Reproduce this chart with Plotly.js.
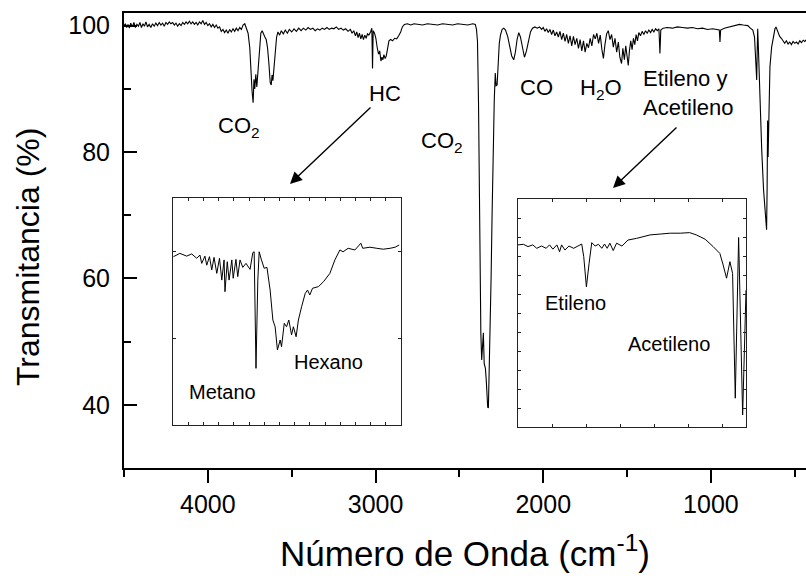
<!DOCTYPE html>
<html><head><meta charset="utf-8">
<script src="https://cdn.plot.ly/plotly-3.0.1.min.js"></script>
<style>html,body{margin:0;padding:0;background:#fff}#chart{width:806px;height:582px}</style>
</head><body><div id="chart"></div>
<script>
// Main FTIR spectrum (wavenumber cm-1, transmittance %)
const mainWave = [4500,4492,4484,4476,4468,4460,4450,4441,4432,4423,4414,4405,4396,4387,4378,4369,4360,4350,4340,4330,4320,4310,4300,4290,4280,4270,4260,4250,4240,4230,4220,4210,4200,4190,4180,4170,4160,4150,4140,4130,4120,4110,4100,4090,4080,4070,4060,4050,4040,4030,4020,4010,4000,3990,3980,3970,3960,3950,3940,3930,3920,3910,3900,3890,3880,3870,3860,3850,3840,3830,3820,3810,3800,3790,3780,3770,3760,3750,3742,3736,3730,3725,3720,3714,3708,3700,3692,3684,3676,3668,3660,3652,3644,3636,3628,3622,3617,3612,3606,3598,3590,3582,3572,3562,3550,3538,3526,3514,3500,3486,3472,3458,3444,3430,3416,3402,3388,3374,3360,3346,3332,3318,3304,3290,3276,3262,3248,3234,3220,3206,3192,3178,3164,3150,3140,3130,3120,3112,3104,3096,3088,3080,3072,3064,3056,3048,3040,3030,3022,3018,3014,3006,2998,2990,2982,2975,2968,2962,2956,2950,2943,2936,2928,2920,2910,2898,2886,2874,2862,2850,2840,2828,2810,2790,2770,2750,2720,2690,2660,2630,2600,2570,2540,2510,2480,2450,2420,2405,2398,2392,2386,2381,2376,2372,2367,2362,2357,2352,2345,2340,2336,2331,2327,2322,2317,2311,2305,2299,2292,2286,2281,2275,2269,2262,2255,2245,2235,2225,2212,2200,2188,2176,2166,2156,2146,2136,2124,2112,2100,2088,2076,2064,2050,2036,2022,2010,2000,1990,1980,1970,1960,1950,1940,1930,1920,1910,1900,1890,1880,1870,1860,1850,1840,1830,1820,1810,1800,1790,1780,1770,1760,1750,1740,1730,1720,1710,1700,1690,1680,1670,1660,1650,1641,1632,1622,1612,1602,1592,1582,1572,1562,1552,1543,1533,1525,1516,1508,1500,1493,1486,1478,1470,1462,1454,1446,1438,1430,1420,1410,1400,1390,1380,1370,1360,1350,1340,1330,1320,1310,1304,1299,1285,1260,1230,1200,1170,1140,1110,1080,1050,1020,990,960,950,946,942,920,890,860,830,807,780,765,750,740,733,727,724,721,717,712,706,697,686,677,668,665,662,659,654,648,638,628,618,612,600,590,580,570,560,550,540,530,520,510,500,490,480,470,460,450,440,430];
const mainTrans = [100.0,100.3,99.7,100.2,99.6,100.4,99.8,100.5,99.7,100.2,99.9,100.5,99.7,100.3,99.9,100.6,99.8,100.2,99.7,100.3,99.9,100.4,100.0,100.5,100.1,100.4,99.9,100.5,100.2,100.6,100.3,100.5,100.1,100.4,99.9,100.3,100.0,100.5,100.2,100.6,100.3,100.7,100.3,100.6,100.2,100.5,100.1,100.6,100.3,100.8,100.2,100.5,100.0,100.3,99.8,100.2,99.7,100.1,99.6,99.8,99.1,99.4,98.9,99.3,98.8,99.4,99.0,99.5,99.1,99.6,99.2,99.7,99.4,100.1,100.3,99.6,98.8,96.5,92.0,89.5,87.8,91.5,90.0,92.3,90.3,93.0,97.0,98.8,99.2,98.6,98.2,97.8,96.5,94.0,91.0,90.6,92.2,91.3,93.5,96.8,98.2,99.0,98.5,99.2,98.7,99.3,98.8,99.4,99.0,99.5,99.1,99.6,99.2,99.6,99.3,99.7,99.4,99.6,99.2,99.5,99.3,99.6,99.4,99.7,99.4,99.6,99.5,99.8,99.4,99.6,99.3,99.5,99.1,99.4,98.8,99.2,98.4,99.0,98.1,98.8,97.9,98.6,97.8,98.5,98.0,98.7,98.5,99.0,99.6,93.2,99.2,98.8,98.0,96.5,95.5,96.0,94.4,95.0,94.6,95.4,94.8,95.2,96.5,97.6,97.8,97.6,98.0,97.9,98.4,99.0,99.8,100.2,100.3,100.1,100.3,100.2,100.1,100.3,100.2,100.1,100.3,100.2,100.1,100.3,100.2,100.1,100.3,100.2,99.4,97.5,88.0,70.0,55.0,51.3,47.1,49.5,51.4,46.5,45.8,44.0,40.8,39.6,39.5,45.0,51.4,60.0,70.0,81.0,88.2,92.5,90.5,90.6,94.0,97.2,98.5,99.4,99.6,99.3,98.3,96.8,95.2,94.6,95.8,97.8,98.9,98.2,96.5,95.0,96.0,97.8,99.0,99.6,99.8,99.6,99.8,99.4,99.7,99.1,99.5,98.9,99.4,98.6,99.3,98.4,99.0,98.2,99.1,97.8,98.8,97.5,98.6,97.2,98.4,96.8,98.3,97.0,98.0,96.4,97.8,96.0,97.6,95.8,97.2,96.5,98.0,96.8,98.6,97.9,98.8,97.2,98.5,96.2,94.8,97.0,98.7,99.2,97.8,98.6,96.6,98.0,95.8,97.4,95.0,94.0,96.4,94.6,96.8,95.2,93.7,96.0,97.6,96.2,98.0,97.0,98.6,97.6,98.9,98.4,99.1,98.6,99.2,98.8,99.3,98.9,99.4,99.0,99.5,99.2,99.5,95.6,99.3,99.6,99.7,99.6,99.8,99.7,99.6,99.7,99.5,99.6,99.4,99.5,99.4,99.3,97.4,99.3,99.6,99.8,100.0,100.2,100.1,100.0,99.6,99.3,98.2,95.0,91.4,96.0,99.5,96.5,91.9,87.0,80.3,74.0,70.5,67.7,74.0,85.0,79.2,88.5,93.5,96.6,98.2,99.5,99.8,99.0,98.3,98.0,97.5,97.2,97.6,97.1,97.4,97.0,97.5,97.2,97.4,97.1,97.6,97.3,97.7,97.5,97.8];

// Inset 1: hydrocarbon region (metano / hexano)
const hcWave = [3199,3185,3170,3159,3148,3141,3137,3130,3126,3120,3115,3110,3104,3098,3093,3088,3086,3081,3077,3071,3068,3062,3058,3053,3047,3040,3031,3025,3022,3018,3014,3011,3006,3000,2994,2987,2981,2976,2971,2965,2962,2956,2951,2946,2940,2936,2930,2925,2918,2910,2905,2900,2894,2881,2870,2856,2845,2834,2827,2816,2801,2788,2784,2768,2753,2739,2724,2713,2704];
const hcTrans = [99.27,99.45,99.30,99.42,99.18,99.36,98.90,99.30,98.80,99.27,98.54,99.23,98.35,99.18,97.98,99.09,97.34,98.99,97.98,99.09,98.08,99.12,98.17,99.09,98.68,98.90,98.57,99.49,99.54,93.12,97.98,99.54,99.09,98.63,98.68,97.43,95.78,95.41,94.13,94.68,94.31,95.60,95.41,95.78,94.96,95.41,94.86,95.78,96.51,97.25,97.43,97.16,97.53,97.62,97.89,98.35,99.09,99.64,99.54,99.73,99.64,100.01,99.73,99.79,99.73,99.68,99.73,99.79,99.91];

// Inset 2: etileno / acetileno region
const c2Wave = [1050,1042,1035,1028,1022,1015,1008,1003,998,992,988,985,980,974,967,960,955,952,948,944,940,935,930,925,921,917,913,908,903,895,886,873,861,853,838,823,808,794,784,771,759,749,744,739,734,730,726,721,715,710];
const c2Trans = [98.39,98.41,98.33,98.39,98.27,98.35,98.27,98.39,98.24,98.39,98.15,98.39,98.21,98.35,98.27,98.35,98.42,97.98,96.92,97.74,98.47,98.35,98.41,98.27,98.42,98.27,98.45,98.19,98.45,98.35,98.56,98.62,98.70,98.74,98.77,98.80,98.80,98.82,98.74,98.59,98.33,98.09,97.68,97.22,97.80,97.39,93.01,98.65,92.42,96.80];

const xTickVals = [4000,3000,2000,1000];
const xTickText = ['4000','3000','2000','1000'];
const yTickVals = [40,60,80,100];
const yTickText = ['40','60','80','100'];

const FONT = '"Liberation Sans", Arial, sans-serif';
const lineStyle = {color:'#000', width:1.1};

const traces = [
  {x:mainWave, y:mainTrans, type:'scatter', mode:'lines', line:lineStyle, xaxis:'x', yaxis:'y', hoverinfo:'x+y'},
  {x:hcWave, y:hcTrans, type:'scatter', mode:'lines', line:{color:'#000', width:1}, xaxis:'x2', yaxis:'y2'},
  {x:c2Wave, y:c2Trans, type:'scatter', mode:'lines', line:{color:'#000', width:1}, xaxis:'x3', yaxis:'y3'}
];

const insetAxis = (extra) => Object.assign({
  showticklabels:false, showgrid:false, zeroline:false, showline:true, mirror:'allticks',
  linecolor:'#222', linewidth:1, ticks:'inside', ticklen:3, tickwidth:1, tickcolor:'#222'
}, extra);

const ann = [];
const lab = (text, x, y, size, extra) => ann.push(Object.assign({
  text:text, x:x, y:y, xref:'paper', yref:'paper', showarrow:false,
  font:{family:FONT, size:size, color:'#000'}, xanchor:'center', yanchor:'middle'
}, extra||{}));
const px2x = p => (p-124)/682;
const py2y = p => (468-p)/455;

lab('Transmitancia (%)', px2x(28), py2y(257), 32, {textangle:-90});
lab('CO<sub>2</sub>', px2x(239), py2y(127), 22);
lab('HC', px2x(385), py2y(93), 22);
lab('CO<sub>2</sub>', px2x(442), py2y(142), 22);
lab('CO', px2x(536), py2y(88), 22);
lab('H<sub>2</sub>O', px2x(601), py2y(89), 22);
lab('Etileno y<br>Acetileno', px2x(641), py2y(93), 22, {xanchor:'left', align:'left'});
lab('Metano', px2x(222), py2y(392), 20);
lab('Hexano', px2x(328), py2y(362), 20);
lab('Etileno', px2x(575), py2y(303), 20);
lab('Acetileno', px2x(669), py2y(344), 20);
// arrows
ann.push({text:'', x:px2x(290), y:py2y(184), xref:'paper', yref:'paper', showarrow:true,
  ax:82, ay:-78, arrowhead:2, arrowsize:1.7, arrowwidth:1.4, arrowcolor:'#000'});
ann.push({text:'', x:px2x(613), y:py2y(188), xref:'paper', yref:'paper', showarrow:true,
  ax:65, ay:-62, arrowhead:2, arrowsize:1.7, arrowwidth:1.4, arrowcolor:'#000'});

const layout = {
  width:806, height:582,
  margin:{l:124, r:0, t:13, b:114},
  paper_bgcolor:'#fff', plot_bgcolor:'#fff',
  showlegend:false,
  font:{family:FONT, color:'#000'},
  xaxis:{
    domain:[0,1], range:[4500,433], autorange:false,
    tickvals:xTickVals, ticktext:xTickText,
    ticks:'outside', ticklen:13, tickwidth:2, tickcolor:'#000',
    minor:{dtick:500, tick0:0, ticks:'outside', ticklen:7, tickwidth:2, tickcolor:'#000', showgrid:false},
    showline:true, linewidth:2, linecolor:'#000', mirror:true,
    showgrid:false, zeroline:false,
    tickfont:{family:FONT, size:25, color:'#000'},
    title:{text:'Número de Onda (cm<sup>-1</sup>)', font:{family:FONT, size:35, color:'#000'}, standoff:24}
  },
  yaxis:{
    domain:[0,1], range:[30,102], autorange:false,
    tickvals:yTickVals, ticktext:yTickText,
    ticks:'inside', ticklen:13, tickwidth:2, tickcolor:'#000',
    minor:{dtick:10, tick0:0, ticks:'inside', ticklen:7, tickwidth:2, tickcolor:'#000', showgrid:false},
    showline:true, linewidth:2, linecolor:'#000',
    showgrid:false, zeroline:false, ticklabelstandoff:7,
    tickfont:{family:FONT, size:25, color:'#000'}
  },
  xaxis2: insetAxis({domain:[px2x(173), px2x(401)], range:[3200,2700], anchor:'y2', tick0:3200, dtick:100/3}),
  yaxis2: insetAxis({domain:[py2y(425), py2y(198)], range:[90,102.5], anchor:'x2', tick0:99.53, dtick:4.79}),
  xaxis3: insetAxis({domain:[px2x(518), px2x(746)], range:[1050,710], anchor:'y3', tick0:1050, dtick:340/6.7}),
  yaxis3: insetAxis({domain:[py2y(427), py2y(199)], range:[92,100], anchor:'x3', tick0:92, dtick:2/3}),
  annotations: ann
};

Plotly.newPlot('chart', traces, layout, {displayModeBar:false, staticPlot:true});
</script>
</body></html>
